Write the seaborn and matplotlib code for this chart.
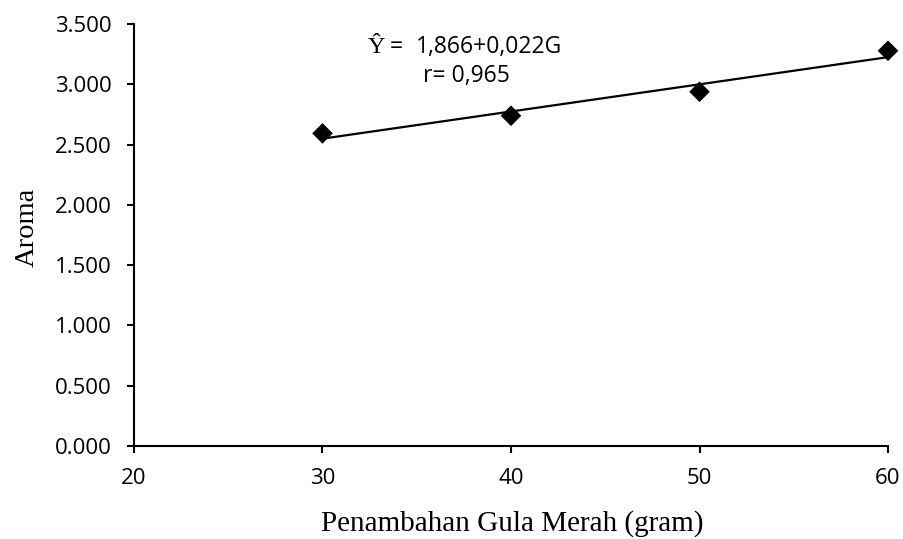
import matplotlib
matplotlib.use("Agg")
import matplotlib.pyplot as plt
import seaborn as sns
import pandas as pd

# ---- data ----
gula = [30, 40, 50, 60]
aroma = [2.593, 2.739, 2.938, 3.278]
x_ticks = [20, 30, 40, 50, 60]
y_ticks = [0.0, 0.5, 1.0, 1.5, 2.0, 2.5, 3.0, 3.5]
y_ticklabels = ["0.000", "0.500", "1.000", "1.500", "2.000", "2.500", "3.000", "3.500"]
eq_text = "1,866+0,022G"
r_text = "r= 0,965"
x_label = "Penambahan Gula Merah (gram)"
y_label = "Aroma"

df = pd.DataFrame({"gula": gula, "aroma": aroma})

sns.set_style("white")
plt.rcParams["font.family"] = ["Open Sans", "DejaVu Sans"]
plt.rcParams["text.color"] = "black"
plt.rcParams["axes.labelcolor"] = "black"
plt.rcParams["xtick.color"] = "black"
plt.rcParams["ytick.color"] = "black"

fig = plt.figure(figsize=(9.04, 5.39), dpi=100)
ax = fig.add_axes([134 / 904, 1 - 446 / 539, (888 - 134) / 904, (446 - 24) / 539])

sns.regplot(data=df, x="gula", y="aroma", ax=ax, ci=None, marker="D", color="black",
            scatter_kws={"s": 110, "edgecolor": "none", "alpha": 1, "zorder": 3,
                         "clip_on": False},
            line_kws={"lw": 1.6, "zorder": 2, "clip_on": False})

ax.set_xlim(20, 60)
ax.set_ylim(0, 3.5)
ax.set_xticks(x_ticks)
ax.set_xticklabels([str(t) for t in x_ticks])
ax.set_yticks(y_ticks)
ax.set_yticklabels(y_ticklabels)

for s in ["top", "right"]:
    ax.spines[s].set_visible(False)
for s in ["left", "bottom"]:
    ax.spines[s].set_color("black")
    ax.spines[s].set_linewidth(1.5)

ax.tick_params(axis="both", direction="out", length=5, width=1.5, colors="black",
               labelsize=16, pad=11)
ax.tick_params(axis="x", bottom=True)
ax.tick_params(axis="y", left=True)

serif = ["Liberation Serif", "DejaVu Serif"]
ax.set_xlabel(x_label, fontsize=21, family=serif, va="baseline", color="black")
ax.xaxis.set_label_coords(0.5015, (446 - 530.7) / 422)
ax.set_ylabel(y_label, fontsize=20.5, family=serif, va="baseline", color="black")
ax.yaxis.set_label_coords((33.3 - 134) / 754, (446 - 227.5) / 422)

# annotation
ax.text(32.39, 3.256, "\u0176", family=serif, fontsize=17.5, va="baseline", ha="left")
ax.text(33.57, 3.256, "=", fontsize=16.5, va="baseline", ha="left")
ax.text(34.95, 3.256, eq_text, fontsize=16.5, va="baseline", ha="left")
ax.text(35.34, 3.016, r_text, fontsize=16.5, va="baseline", ha="left")

fig.savefig("out.png", dpi=100, facecolor="white")
